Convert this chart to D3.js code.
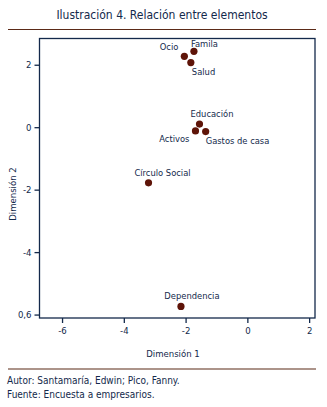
<!DOCTYPE html>
<html>
<head>
  <meta charset="utf-8">
  <title>Relación entre elementos</title>
  <script type="text/javascript" src="https://d3js.org/d3.v7.min.js"></script>
  <style>
    body { margin: 0; background: #ffffff; }
    text { font-family: "DejaVu Sans Condensed", "DejaVu Sans", sans-serif; fill: #13294b; }
  </style>
</head>
<body>
  <script>
    // elementos y sus coordenadas en las dos dimensiones
    var elementos = ["Famila", "Ocio", "Salud", "Educación", "Activos", "Gastos de casa", "Círculo Social", "Dependencia"];
    var dim1 = [-1.73, -2.04, -1.83, -1.55, -1.68, -1.35, -3.20, -2.15];
    var dim2 = [2.43, 2.27, 2.07, 0.10, -0.12, -0.14, -1.78, -5.74];

    var xTicks = [-6, -4, -2, 0, 2];
    var xTickLabels = ["-6", "-4", "-2", "0", "2"];
    var yTicks = [2, 0, -2, -4, -6];
    var yTickLabels = ["2", "0", "-2", "-4", "0,6"];

    // donde va cada etiqueta respecto a su punto
    var etiqueta = {
      "Famila": [-3, -4, "start"],
      "Ocio": [-6, -6, "end"],
      "Salud": [1, 12, "start"],
      "Educación": [-9, -7, "start"],
      "Activos": [-6, 11, "end"],
      "Gastos de casa": [0, 12, "start"],
      "Círculo Social": [14, -7, "middle"],
      "Dependencia": [11, -7, "middle"]
    };

    var W = 327, H = 407;
    var mLeft = 39.5, mRight = 315, mTop = 38.5, mBottom = 318;

    var svg = d3.select("body").append("svg")
      .attr("width", W)
      .attr("height", H);

    var x = d3.scaleLinear().domain([-6.73, 2.19]).range([mLeft, mRight]);
    var y = d3.scaleLinear().domain([2.84, -6.11]).range([mTop, mBottom]);

    // titulo y lineas
    svg.append("text")
      .attr("x", 162).attr("y", 19)
      .attr("text-anchor", "middle")
      .style("font-size", "12px")
      .text("Ilustración 4. Relación entre elementos");
    svg.append("line")
      .attr("x1", 8).attr("x2", 316).attr("y1", 29.5).attr("y2", 29.5)
      .attr("stroke", "#5b2a17").attr("stroke-width", 1.2);
    svg.append("line")
      .attr("x1", 8).attr("x2", 316).attr("y1", 369).attr("y2", 369)
      .attr("stroke", "#5b2a17").attr("stroke-width", 1.2);

    // marco
    svg.append("rect")
      .attr("x", mLeft).attr("y", mTop)
      .attr("width", mRight - mLeft).attr("height", mBottom - mTop)
      .attr("fill", "none").attr("stroke", "#13294b").attr("stroke-width", 1.3);

    var gx = svg.append("g")
      .attr("transform", "translate(0," + mBottom + ")")
      .call(d3.axisBottom(x).tickValues(xTicks).tickSize(5).tickPadding(4)
        .tickFormat(function(d, i) { return xTickLabels[i]; }));
    var gy = svg.append("g")
      .attr("transform", "translate(" + mLeft + ",0)")
      .call(d3.axisLeft(y).tickValues(yTicks).tickSize(5).tickPadding(3)
        .tickFormat(function(d, i) { return yTickLabels[i]; }));

    [gx, gy].forEach(function(g) {
      g.select(".domain").remove();
      g.selectAll("line").attr("stroke", "#13294b").attr("stroke-width", 1.3);
      g.selectAll("text").style("font-size", "9.5px").attr("fill", "#13294b")
        .style("font-family", "'DejaVu Sans Condensed', sans-serif");
    });

    svg.append("text")
      .attr("x", 173).attr("y", 357)
      .attr("text-anchor", "middle")
      .style("font-size", "9.5px")
      .text("Dimensión 1");
    svg.append("text")
      .attr("transform", "translate(16,194) rotate(-90)")
      .attr("text-anchor", "middle")
      .style("font-size", "9.5px")
      .text("Dimensión 2");

    // puntos
    var pts = svg.append("g");
    elementos.forEach(function(nombre, i) {
      var cx = x(dim1[i]), cy = y(dim2[i]);
      pts.append("circle")
        .attr("cx", cx).attr("cy", cy).attr("r", 3.6)
        .attr("fill", "#5e1408");
      var e = etiqueta[nombre];
      pts.append("text")
        .attr("x", cx + e[0]).attr("y", cy + e[1])
        .attr("text-anchor", e[2])
        .style("font-size", "9.3px")
        .text(nombre);
    });

    // pie
    svg.append("text")
      .attr("x", 7).attr("y", 384)
      .style("font-size", "10px")
      .text("Autor: Santamaría, Edwin; Pico, Fanny.");
    svg.append("text")
      .attr("x", 7).attr("y", 398)
      .style("font-size", "10px")
      .text("Fuente: Encuesta a empresarios.");
  </script>
</body>
</html>
